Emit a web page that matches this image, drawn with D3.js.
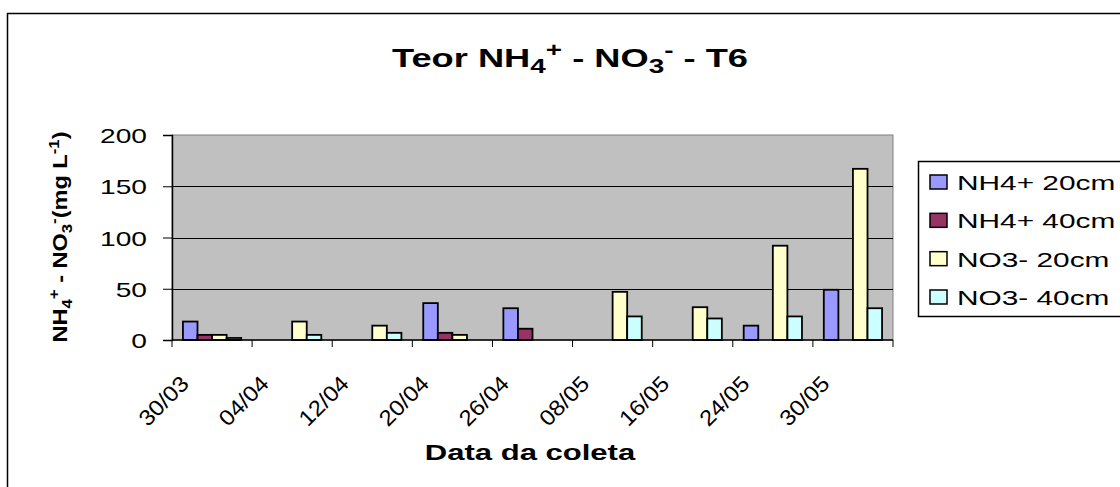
<!DOCTYPE html>
<html>
<head>
<meta charset="utf-8">
<script src="https://cdn.jsdelivr.net/npm/d3@7"></script>
<style>
  body { margin: 0; background: #fff; }
  text { font-family: "Liberation Sans", Arial, sans-serif; fill: #000; }
</style>
</head>
<body>
<div id="chart"></div>
<script>
// data
const dates = ["30/03", "04/04", "12/04", "20/04", "26/04", "08/05", "16/05", "24/05", "30/05"]
const seriesNames = ["NH4+ 20cm", "NH4+ 40cm", "NO3- 20cm", "NO3- 40cm"]
const nh4_20 = [18, 0, 0, 36, 31, 0, 0, 14, 49]
const nh4_40 = [5, 0, 0, 7, 11, 0, 0, 0, 0]
const no3_20 = [5, 18, 14, 5, 0, 47, 32, 92, 167]
const no3_40 = [2, 5, 7, 0, 0, 23, 21, 23, 31]
const yTicks = [0, 50, 100, 150, 200]

const seriesValues = [nh4_20, nh4_40, no3_20, no3_40]
const seriesColors = ["#9999FF", "#993366", "#FFFFCC", "#CCFFFF"]

// plot area of the chart
const plot = { left: 172, right: 893, top: 135, bottom: 340 }

const svg = d3.select("#chart")
  .append("svg")
    .attr("width", 1120)
    .attr("height", 487)

// stretch a text horizontally, the original chart was widened
function stretch(sel, sx) {
  sel.each(function() {
    const w = this.getComputedTextLength()
    d3.select(this).attr("textLength", w * sx).attr("lengthAdjust", "spacingAndGlyphs")
  })
}

// chart area border
svg.append("rect")
  .attr("x", 7.5).attr("y", 13.5)
  .attr("width", 1200).attr("height", 600)
  .attr("fill", "none").attr("stroke", "#000").attr("stroke-width", 1.5)

// scales
const x = d3.scaleBand()
  .domain(dates)
  .range([plot.left, plot.right])

const xSub = d3.scaleBand()
  .domain(seriesNames)
  .range([0, x.bandwidth()])
  .paddingOuter(0.75)

const y = d3.scaleLinear()
  .domain([0, 200])
  .range([plot.bottom, plot.top])

// grey plot background
svg.append("rect")
  .attr("x", plot.left).attr("y", plot.top)
  .attr("width", plot.right - plot.left).attr("height", plot.bottom - plot.top)
  .attr("fill", "#C0C0C0").attr("stroke", "#808080").attr("stroke-width", 1)

// gridlines
svg.append("g")
  .selectAll("line")
  .data(yTicks.filter(d => d > 0 && d < 200))
  .join("line")
    .attr("x1", plot.left).attr("x2", plot.right)
    .attr("y1", d => Math.round(y(d)) + 0.5).attr("y2", d => Math.round(y(d)) + 0.5)
    .attr("stroke", "#000").attr("stroke-width", 1)

// bars
seriesNames.forEach((name, i) => {
  svg.append("g")
    .selectAll("rect")
    .data(dates.map((d, j) => ({ date: d, value: seriesValues[i][j] })).filter(e => e.value > 0))
    .join("rect")
      .attr("x", e => x(e.date) + xSub(name))
      .attr("y", e => y(e.value))
      .attr("width", xSub.bandwidth())
      .attr("height", e => y(0) - y(e.value))
      .attr("fill", seriesColors[i])
      .attr("stroke", "#000")
      .attr("stroke-width", 1.8)
})

// y axis
const yAxis = svg.append("g")
  .attr("transform", `translate(${plot.left},0)`)
  .call(d3.axisLeft(y).tickValues(yTicks).tickSize(9).tickPadding(16))
yAxis.select(".domain").attr("stroke", "#000").attr("stroke-width", 1.5)
yAxis.selectAll(".tick line").attr("stroke", "#000")
yAxis.selectAll(".tick text")
  .attr("font-size", 21)
  .attr("font-family", "Liberation Sans")
  .attr("dy", "0.36em")
  .call(stretch, 1.34)

// x axis with ticks between categories
const xAxis = svg.append("g")
xAxis.append("line")
  .attr("x1", plot.left).attr("x2", plot.right)
  .attr("y1", plot.bottom).attr("y2", plot.bottom)
  .attr("stroke", "#000").attr("stroke-width", 1.5)
xAxis.selectAll(".xtick")
  .data(dates.concat(["end"]))
  .join("line")
    .attr("class", "xtick")
    .attr("x1", (d, i) => i < dates.length ? x(d) : plot.right)
    .attr("x2", (d, i) => i < dates.length ? x(d) : plot.right)
    .attr("y1", plot.bottom).attr("y2", plot.bottom + 7)
    .attr("stroke", "#000")
xAxis.selectAll(".xlabel")
  .data(dates)
  .join("text")
    .attr("class", "xlabel")
    .attr("text-anchor", "end")
    .attr("font-size", 22)
    .attr("transform", d => `translate(${x(d) + x.bandwidth() / 2 - 22},${plot.bottom + 45}) rotate(-45)`)
    .text(d => d)
    .attr("textLength", 60)
    .attr("lengthAdjust", "spacingAndGlyphs")

// title
const title = svg.append("text")
  .attr("x", 570).attr("y", 67)
  .attr("text-anchor", "middle")
  .attr("font-size", 26)
  .attr("font-weight", "bold")
title.append("tspan").text("Teor NH")
title.append("tspan").attr("font-size", 20).attr("dy", 6).text("4")
title.append("tspan").attr("font-size", 20).attr("dy", -16).text("+")
title.append("tspan").attr("dy", 10).text(" - NO")
title.append("tspan").attr("font-size", 20).attr("dy", 6).text("3")
title.append("tspan").attr("font-size", 20).attr("dy", -16).text("-")
title.append("tspan").attr("dy", 10).text(" - T6")
title.attr("textLength", 356).attr("lengthAdjust", "spacingAndGlyphs")

// y axis title
const yTitle = svg.append("text")
  .attr("transform", "translate(67,237) rotate(-90)")
  .attr("text-anchor", "middle")
  .attr("font-size", 21)
  .attr("font-weight", "bold")
yTitle.append("tspan").text("NH")
yTitle.append("tspan").attr("font-size", 15).attr("dy", 5).text("4")
yTitle.append("tspan").attr("font-size", 15).attr("dy", -13).text("+")
yTitle.append("tspan").attr("dy", 8).text(" - NO")
yTitle.append("tspan").attr("font-size", 15).attr("dy", 5).text("3")
yTitle.append("tspan").attr("font-size", 15).attr("dy", -13).text("-")
yTitle.append("tspan").attr("dy", 8).text("(mg L")
yTitle.append("tspan").attr("font-size", 15).attr("dy", -8).text("-1")
yTitle.append("tspan").attr("dy", 8).text(")")
yTitle.attr("textLength", 211).attr("lengthAdjust", "spacingAndGlyphs")

// x axis title
svg.append("text")
  .attr("x", 530).attr("y", 460)
  .attr("text-anchor", "middle")
  .attr("font-size", 22)
  .attr("font-weight", "bold")
  .text("Data da coleta")
  .call(stretch, 1.41)

// legend
const legend = svg.append("g")
legend.append("rect")
  .attr("x", 918.5).attr("y", 161.5)
  .attr("width", 300).attr("height", 155)
  .attr("fill", "#fff").attr("stroke", "#000").attr("stroke-width", 1.5)
const legendY = d3.scalePoint()
  .domain(seriesNames)
  .range([182, 297])
const entries = legend.selectAll(".entry")
  .data(seriesNames)
  .join("g")
    .attr("class", "entry")
    .attr("transform", d => `translate(0,${legendY(d)})`)
entries.append("rect")
  .attr("x", 930).attr("y", -7)
  .attr("width", 17).attr("height", 14)
  .attr("fill", (d, i) => seriesColors[i])
  .attr("stroke", "#000").attr("stroke-width", 1.5)
entries.append("text")
  .attr("x", 957).attr("y", 8)
  .attr("font-size", 21)
  .text(d => d)
  .call(stretch, 1.42)
</script>
</body>
</html>
